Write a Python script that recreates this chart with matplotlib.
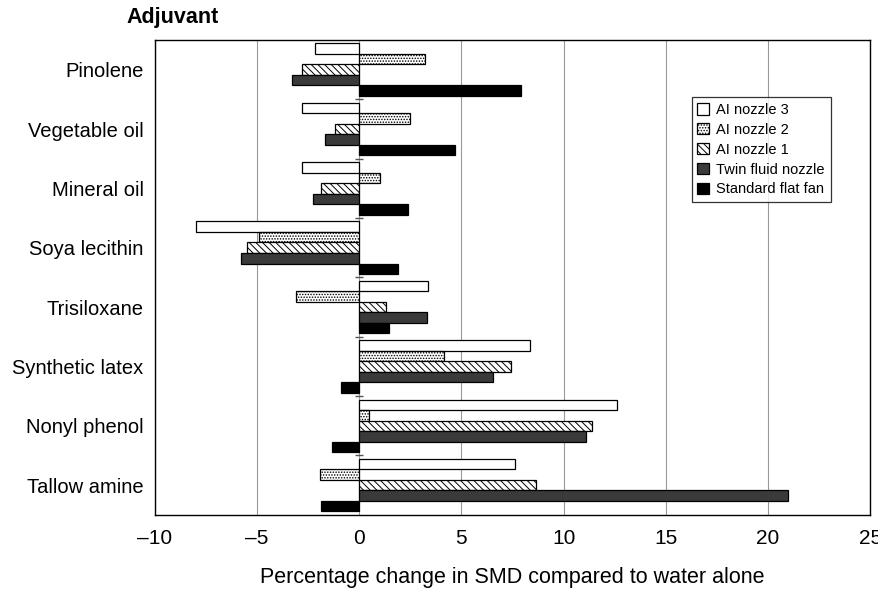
import numpy as np
import matplotlib.pyplot as plt

plt.rcParams['font.family'] = ['Liberation Sans', 'DejaVu Sans']

adjuvants = ["Pinolene", "Vegetable oil", "Mineral oil", "Soya lecithin",
             "Trisiloxane", "Synthetic latex", "Nonyl phenol", "Tallow amine"]

ai_nozzle_3 = [-2.15, -2.8, -2.8, -8.0, 3.35, 8.35, 12.6, 7.6]
ai_nozzle_2 = [3.2, 2.5, 1.0, -4.9, -3.1, 4.15, 0.5, -1.9]
ai_nozzle_1 = [-2.8, -1.2, -1.85, -5.5, 1.3, 7.45, 11.4, 8.65]
twin_fluid = [-3.3, -1.65, -2.25, -5.8, 3.3, 6.55, 11.1, 21.0]
flat_fan = [7.9, 4.7, 2.4, 1.9, 1.45, -0.9, -1.35, -1.85]

series = [
    ("AI nozzle 3", ai_nozzle_3, dict(facecolor="white", hatch=None)),
    ("AI nozzle 2", ai_nozzle_2, dict(facecolor="white", hatch="......")),
    ("AI nozzle 1", ai_nozzle_1, dict(facecolor="white", hatch="\\\\\\\\\\")),
    ("Twin fluid nozzle", twin_fluid, dict(facecolor="#3a3a3a", hatch=None)),
    ("Standard flat fan", flat_fan, dict(facecolor="black", hatch=None)),
]

fig = plt.figure(figsize=(8.79, 5.89), dpi=100)
ax = fig.add_axes([0.176, 0.126, 0.814, 0.806])

plt.rcParams['hatch.linewidth'] = 0.7
pos = np.arange(len(adjuvants))
bar_h = 0.177
for i, (name, vals, style) in enumerate(series):
    offs = pos - 2 * bar_h + i * bar_h
    ax.barh(offs, vals, bar_h, label=name, edgecolor="black", linewidth=0.9,
            zorder=3, **style)

# small marks on the zero line between groups
ax.plot(np.zeros(len(adjuvants) - 1), pos[:-1] + 0.5, marker="_", color="#555555",
        linestyle="none", markersize=6, zorder=4)

ax.set_xlim(-10, 25)
ax.set_ylim(len(adjuvants) - 0.5, -0.5)
ax.set_xticks(range(-10, 26, 5))
ax.set_xticklabels([str(t).replace("-", "\u2013") for t in range(-10, 26, 5)], fontsize=15)
ax.set_yticks(pos)
ax.set_yticklabels(adjuvants, fontsize=14.5)
ax.tick_params(axis="y", length=0, pad=8)
ax.tick_params(axis="x", length=0, pad=10)
ax.grid(axis="x", color="#999999", linewidth=0.8, zorder=0)
for s in ax.spines.values():
    s.set_linewidth(1.0)

ax.set_xlabel("Percentage change in SMD compared to water alone", fontsize=15.5, labelpad=14)
fig.text(0.144, 0.971, "Adjuvant", fontsize=15.5, fontweight="bold", ha="left", va="center")

leg = ax.legend(loc="upper right", bbox_to_anchor=(0.955, 0.895), fontsize=10.5,
                frameon=True, fancybox=False, edgecolor="black",
                handlelength=0.8, handleheight=0.8, handletextpad=0.5,
                labelspacing=0.4, borderpad=0.4)
leg.get_frame().set_linewidth(0.9)

plt.savefig("out.png", dpi=100)
